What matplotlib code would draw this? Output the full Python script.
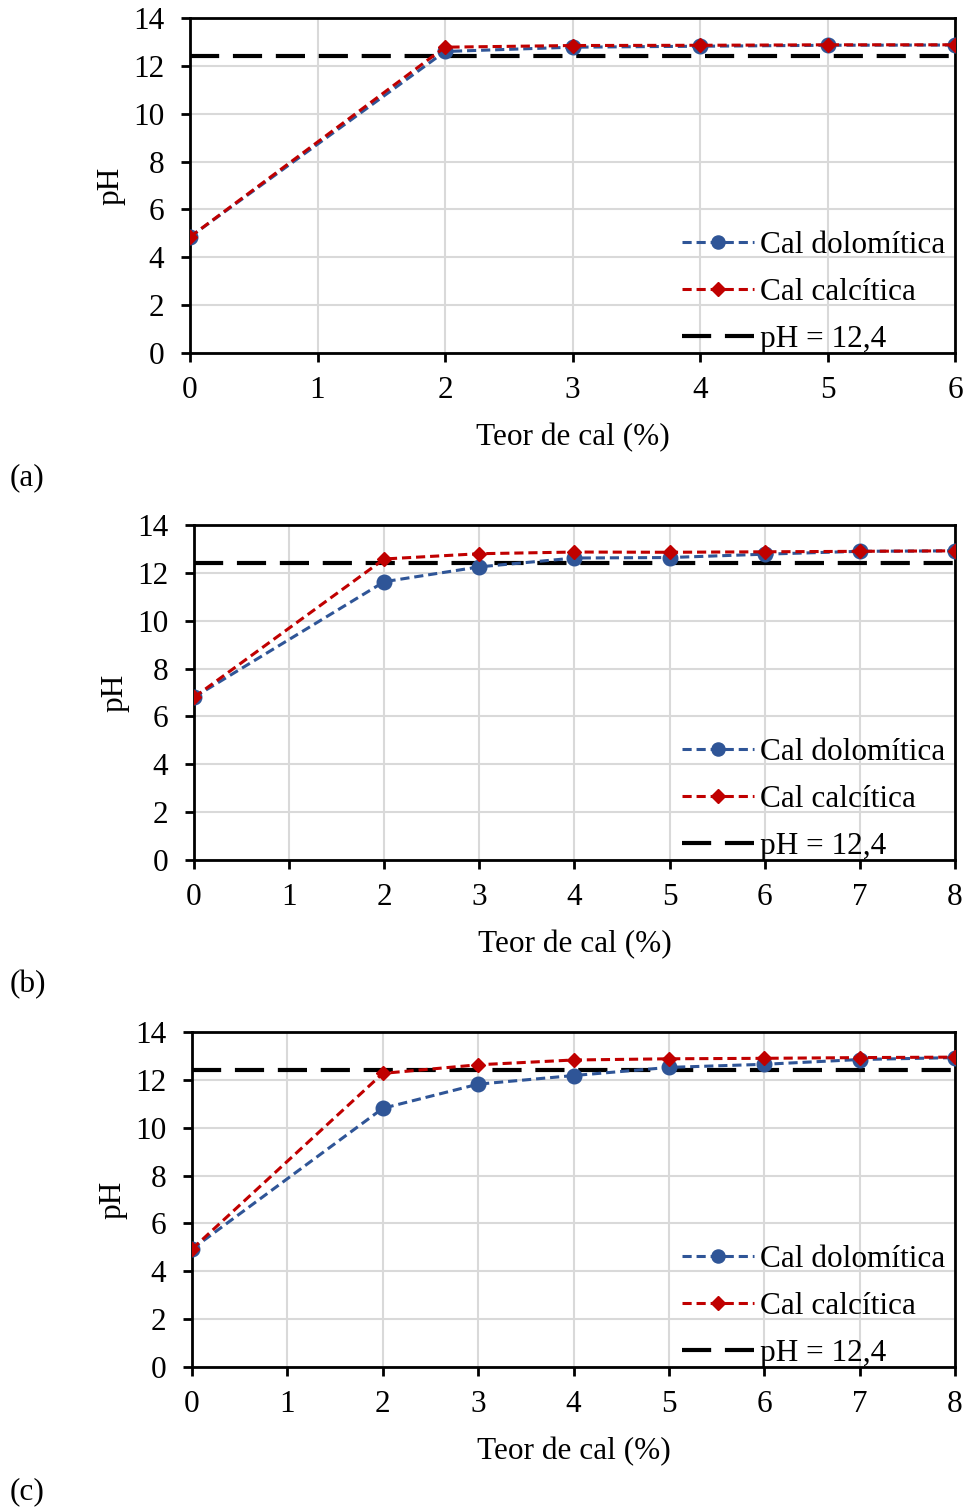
import matplotlib
matplotlib.use('Agg')
import matplotlib.pyplot as plt
import numpy as np

plt.rcParams['font.family'] = ['Liberation Serif', 'DejaVu Serif']
plt.rcParams['font.size'] = 22.5

# panel (a)
teor_a = [0, 2, 3, 4, 5, 6]
dolo_a = [4.85, 12.6, 12.78, 12.82, 12.86, 12.87]
calc_a = [4.85, 12.78, 12.85, 12.86, 12.88, 12.88]

# panel (b)
teor_b = [0, 2, 3, 4, 5, 6, 7, 8]
dolo_b = [6.8, 11.63, 12.25, 12.62, 12.64, 12.78, 12.9, 12.92]
calc_b = [6.8, 12.58, 12.8, 12.87, 12.86, 12.88, 12.9, 12.92]

# panel (c)
teor_c = [0, 2, 3, 4, 5, 6, 7, 8]
dolo_c = [4.93, 10.81, 11.82, 12.18, 12.52, 12.65, 12.85, 12.93]
calc_c = [4.93, 12.27, 12.63, 12.83, 12.88, 12.9, 12.93, 12.95]

ph_ref = 12.4
panel_labels = ['(a)', '(b)', '(c)']

BLUE = '#2F5597'
RED = '#C00000'
FS = 22.5

fig = plt.figure(figsize=(9.67, 15.07), dpi=100)

# [left, bottom, width, height] in figure fractions
boxes = [
    [0.1965, 0.76576, 0.7911, 0.2223],
    [0.2006, 0.42933, 0.7870, 0.2223],
    [0.1986, 0.09290, 0.7890, 0.2223],
]
label_y = [0.6828, 0.3464, 0.0100]

panels = [(teor_a, dolo_a, calc_a), (teor_b, dolo_b, calc_b), (teor_c, dolo_c, calc_c)]

for i, (x, dolo, calc) in enumerate(panels):
    ax = fig.add_axes(boxes[i])
    xmax = max(x)
    ax.plot(x, dolo, color=BLUE, ls=(0, (3, 1.6)), lw=2.2, marker='o', ms=10.5,
            label='Cal dolomítica', zorder=3)
    ax.plot(x, calc, color=RED, ls=(0, (3, 1.6)), lw=2.2, marker='D', ms=7.5,
            label='Cal calcítica', zorder=4)
    ax.plot([0, xmax], [ph_ref, ph_ref], color='black', ls=(0, (7, 3.3)), lw=3,
            label='pH = 12,4', zorder=2)
    ax.set_xlim(0, xmax)
    ax.set_ylim(0, 14)
    ax.set_xticks(np.arange(0, xmax + 1, 1))
    ax.set_yticks(np.arange(0, 15, 2))
    ax.grid(True, color='#D9D9D9', lw=1.5)
    ax.set_axisbelow(True)
    for s in ax.spines.values():
        s.set_linewidth(2)
        s.set_color('black')
    ax.tick_params(direction='out', length=6.5, width=2, labelsize=FS, pad=12)
    ax.tick_params(axis='x', pad=10)
    ax.set_xlabel('Teor de cal (%)', fontsize=FS)
    ax.set_ylabel('pH', fontsize=FS)
    ax.xaxis.set_label_coords(0.5, -0.21)
    ax.yaxis.set_label_coords(-0.085, 0.5)
    ax.legend(loc='lower right', frameon=False, fontsize=FS,
              handlelength=2.3, handletextpad=0.2, labelspacing=0.57,
              borderpad=0.3, borderaxespad=0, bbox_to_anchor=(1.0, -0.03),
              markerscale=0.9)
    fig.text(0.010, label_y[i], panel_labels[i], fontsize=FS, va='center')

plt.savefig('out.png', dpi=100)
plt.close(fig)
